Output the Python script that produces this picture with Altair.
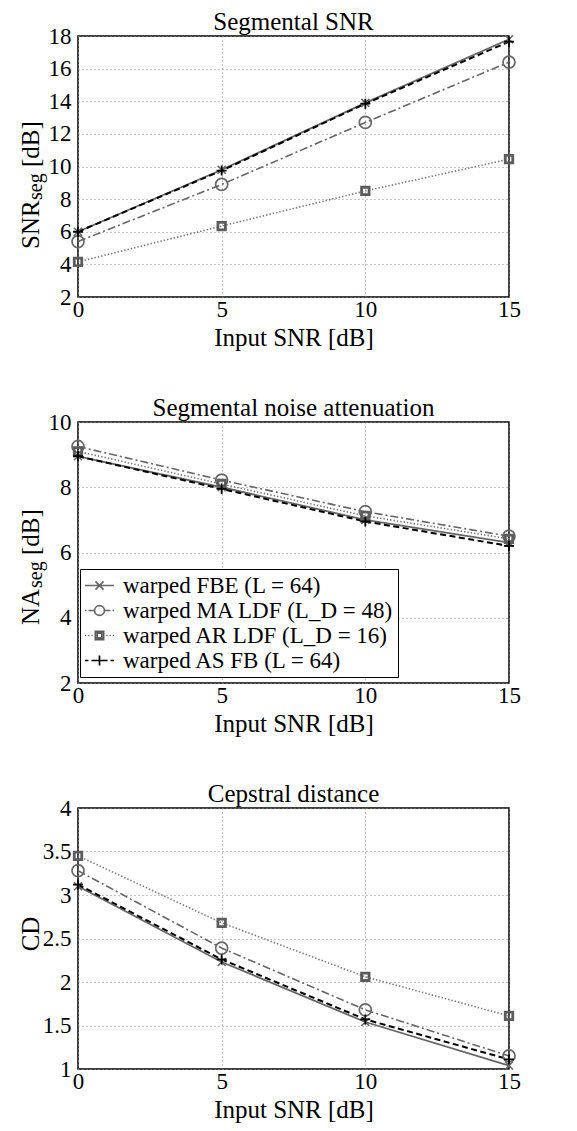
import altair as alt
import pandas as pd

# ---------------- data ----------------
snr_in = [0, 5, 10, 15]
series_names = [
    "warped FBE (L = 64)",
    "warped MA LDF (L_D = 48)",
    "warped AR LDF (L_D = 16)",
    "warped AS FB (L = 64)",
]

segsnr_fbe = [6.0, 9.8, 13.9, 17.8]
segsnr_ma = [5.4, 8.9, 12.7, 16.4]
segsnr_ar = [4.15, 6.35, 8.5, 10.45]
segsnr_as = [6.0, 9.75, 13.85, 17.65]

na_fbe = [8.95, 8.0, 7.0, 6.3]
na_ma = [9.25, 8.22, 7.25, 6.5]
na_ar = [9.1, 8.1, 7.12, 6.42]
na_as = [8.95, 7.95, 6.95, 6.2]

cd_fbe = [3.1, 2.23, 1.54, 1.04]
cd_ma = [3.28, 2.39, 1.68, 1.15]
cd_ar = [3.45, 2.68, 2.06, 1.61]
cd_as = [3.12, 2.26, 1.57, 1.11]

segsnr_ticks = [2, 4, 6, 8, 10, 12, 14, 16, 18]
na_ticks = [2, 4, 6, 8, 10]
cd_ticks = [1, 1.5, 2, 2.5, 3, 3.5, 4]

panel_titles = ["Segmental SNR", "Segmental noise attenuation", "Cepstral distance"]
x_title = "Input SNR [dB]"
ytitle_segsnr = ["SNR", "seg", "[dB]"]
ytitle_na = ["NA", "seg", "[dB]"]
ytitle_cd = ["CD"]

# ---------------- styles ----------------
FONT = "Liberation Serif"
GRAY = "#666666"
SQGRAY = "#5c5c5c"
X_PATH = "M-1,-1L1,1M-1,1L1,-1"
PLUS_PATH = "M-1,0L1,0M0,-1L0,1"

line_styles = [
    dict(color=GRAY, strokeWidth=1.8),
    dict(color=GRAY, strokeDash=[8, 3, 2, 3], strokeWidth=1.6),
    dict(color="#777777", strokeDash=[1.4, 2], strokeWidth=1.6),
    dict(color="black", strokeDash=[6, 3.5], strokeWidth=2.0),
]
marker_styles = [
    dict(shape=X_PATH, size=64, color=GRAY, strokeWidth=1.6),
    dict(shape="circle", size=144, color=GRAY, strokeWidth=1.7),
    dict(shape="square", size=56, color=SQGRAY, strokeWidth=2.8),
    dict(shape=PLUS_PATH, size=100, color="black", strokeWidth=1.8),
]

# legend symbols: unit = 11.5 px, line spans +-1.26 units (29 px)
legend_paths = [
    "M-1.26,0L1.26,0M-0.35,-0.35L0.35,0.35M-0.35,0.35L0.35,-0.35",
    "M-1.26,0L-1.13,0M-0.96,0L-0.45,0M0.45,0L0.96,0M1.13,0L1.26,0"
    "M0.43,0A0.43,0.43,0,1,1,-0.43,0A0.43,0.43,0,1,1,0.43,0",
    "M-1.26,0L-1.16,0M-0.98,0L-0.88,0M-0.7,0L-0.6,0M0.6,0L0.7,0M0.88,0L0.98,0M1.16,0L1.26,0"
    "M-0.36,-0.36L0.36,-0.36L0.36,0.36L-0.36,0.36ZM-0.2,-0.2L0.2,-0.2L0.2,0.2L-0.2,0.2Z",
    "M-1.26,0L-0.96,0M-0.7,0L0.7,0M0.96,0L1.26,0M0,-0.43L0,0.43",
]
legend_colors = [GRAY, GRAY, SQGRAY, "black"]


def make_df(value_lists):
    rows = []
    for name, vals in zip(series_names, value_lists):
        for x, v in zip(snr_in, vals):
            rows.append({"snr": x, "value": v, "series": name})
    return pd.DataFrame(rows)


ytitle_pos = {
    "Segmental SNR": (213, 164, 131),
    "Segmental noise attenuation": (203, 166, 133),
}


def panel(df, ydomain, yticks, title, ytitle_parts, with_legend=False):
    xenc = alt.X(
        "snr:Q",
        scale=alt.Scale(domain=[0, 15], nice=False),
        axis=alt.Axis(values=snr_in, title=x_title, format="~r",
                      labelFont=FONT, titleFont=FONT),
    )
    yenc = alt.Y(
        "value:Q",
        scale=alt.Scale(domain=ydomain, nice=False, zero=False),
        axis=alt.Axis(values=yticks, title=None, format="~r", labelFont=FONT),
    )
    layers = []
    for name, st in zip(series_names, line_styles):
        layers.append(
            alt.Chart(df)
            .transform_filter(alt.datum.series == name)
            .mark_line(**st)
            .encode(x=xenc, y=yenc)
        )
    for name, st in zip(series_names, marker_styles):
        layers.append(
            alt.Chart(df)
            .transform_filter(alt.datum.series == name)
            .mark_point(filled=False, opacity=1, **st)
            .encode(x=xenc, y=yenc)
        )
    if with_legend:
        leg = alt.Legend(
            title=None,
            orient="none",
            legendX=2,
            legendY=147,
            padding=4,
            strokeColor="black",
            fillColor="white",
            symbolSize=529,
            symbolOffset=3,
            symbolStrokeWidth=1.7,
            labelFont=FONT,
            labelFontSize=23,
            labelColor="black",
            labelOffset=11,
            rowPadding=0,
            labelLimit=600,
        )
        layers.append(
            alt.Chart(df)
            .transform_filter("false")
            .mark_point(filled=False, opacity=1, size=529, strokeWidth=1.7)
            .encode(
                x=xenc,
                y=yenc,
                shape=alt.Shape(
                    "series:N",
                    scale=alt.Scale(domain=series_names, range=legend_paths),
                    legend=leg,
                ),
                color=alt.Color(
                    "series:N",
                    scale=alt.Scale(domain=series_names, range=legend_colors),
                    legend=leg,
                ),
            )
        )
    # y-axis title pieces (rotated text with a subscript)
    if len(ytitle_parts) == 3:
        main, sub, unit = ytitle_parts
        pieces = [
            (main, ytitle_pos[title][0], -39, 25),
            (sub, ytitle_pos[title][1], -36, 20),
            (unit, ytitle_pos[title][2], -39, 25),
        ]
        for txt, ypos, xpos, fs in pieces:
            layers.append(
                alt.Chart(pd.DataFrame({"t": [txt]}))
                .mark_text(angle=270, align="left", baseline="alphabetic",
                           font=FONT, fontSize=fs, color="black")
                .encode(x=alt.value(xpos), y=alt.value(ypos), text="t:N")
            )
    else:
        layers.append(
            alt.Chart(pd.DataFrame({"t": ytitle_parts}))
            .mark_text(angle=270, align="center", baseline="alphabetic",
                       font=FONT, fontSize=25, color="black")
            .encode(x=alt.value(-39), y=alt.value(126), text="t:N")
        )
    return alt.layer(*layers).properties(
        width=431,
        height=261,
        title=alt.TitleParams(title, font=FONT, fontSize=25, fontWeight="normal",
                              color="black", offset=-9.5, anchor="middle"),
    )


p1 = panel(make_df([segsnr_fbe, segsnr_ma, segsnr_ar, segsnr_as]), [2, 18], segsnr_ticks,
           panel_titles[0], ytitle_segsnr)
p2 = panel(make_df([na_fbe, na_ma, na_ar, na_as]), [2, 10], na_ticks,
           panel_titles[1], ytitle_na, with_legend=True)
p3 = panel(make_df([cd_fbe, cd_ma, cd_ar, cd_as]), [1, 4], cd_ticks,
           panel_titles[2], ytitle_cd)

chart = (
    alt.vconcat(p1, p2, p3, spacing=43)
    .resolve_scale(color="independent", shape="independent")
    .properties(padding={"top": 0, "left": 10, "right": 5, "bottom": 2}, background="white")
    .configure(font=FONT)
    .configure_view(stroke="black", strokeWidth=1.5)
    .configure_axis(
        grid=True,
        gridDash=[1, 3],
        gridColor="#8a8a8a",
        gridWidth=1,
        gridOpacity=1,
        ticks=False,
        domain=False,
        labelFont=FONT,
        labelFontSize=23,
        labelColor="black",
        titleFont=FONT,
        titleFontSize=25,
        titleFontWeight="normal",
        titleColor="black",
    )
    .configure_axisX(labelPadding=1, labelFlush=False, titlePadding=4)
    .configure_axisY(labelPadding=7)
    .configure_legend(labelFont=FONT)
    .configure_title(font=FONT)
)

chart.save("out.html", embed_options={"renderer": "svg", "actions": False})
